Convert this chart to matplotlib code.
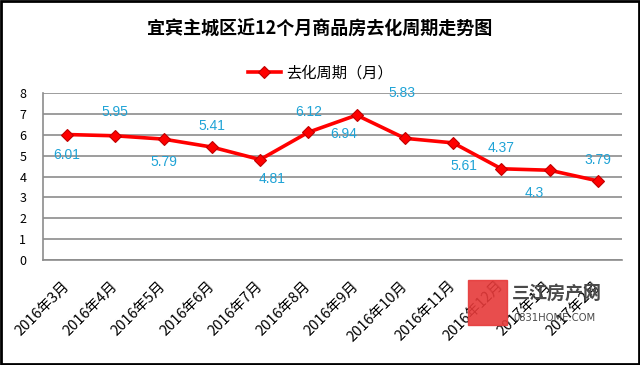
import matplotlib.pyplot as plt
from matplotlib.patches import Rectangle

plt.rcParams['font.family'] = ['Noto Sans CJK SC', 'DejaVu Sans']

# data
months = ['2016年3月', '2016年4月', '2016年5月', '2016年6月', '2016年7月', '2016年8月',
          '2016年9月', '2016年10月', '2016年11月', '2016年12月', '2017年1月', '2017年2月']
cycle = [6.01, 5.95, 5.79, 5.41, 4.81, 6.12, 6.94, 5.83, 5.61, 4.37, 4.3, 3.79]
series_name = '去化周期（月）'
title = '宜宾主城区近12个月商品房去化周期走势图'

# label offsets in pixels (dx, dy), placed like the original excel chart
label_off = [(0, -20), (0, 24), (0, -23), (0, 21), (12, -19), (0, 20),
             (-13, -19), (-3, 45), (11, -23), (0, 21), (-15, -23), (0, 21)]

fig = plt.figure(figsize=(6.4, 3.65), dpi=100)
ax = fig.add_axes([43/640, 105/365, 579/640, 167/365])

x = list(range(len(cycle)))
line, = ax.plot(x, cycle, color='#ff0000', lw=2.6, marker='D', markersize=6.5,
                markerfacecolor='#ff0000', markeredgecolor='#c00000', markeredgewidth=0.8,
                label=series_name, zorder=3)

for i, v in enumerate(cycle):
    ax.annotate(f'{v:g}', (i, v), xytext=label_off[i], textcoords='offset pixels',
                ha='center', va='center', color='#1fa3d6', fontsize=10,
                family=['Liberation Sans', 'DejaVu Sans'])

ax.set_xlim(-0.5, len(cycle) - 0.5)
ax.set_ylim(0, 8)
ax.set_yticks(range(0, 9))
ax.yaxis.grid(True, color='#8c8c8c', lw=1.2)
ax.set_axisbelow(True)
for s in ['top', 'right']:
    ax.spines[s].set_visible(False)
ax.spines['left'].set_color('#8c8c8c')
ax.spines['bottom'].set_color('#8c8c8c')
ax.spines['left'].set_linewidth(1.2)
ax.spines['bottom'].set_linewidth(1.2)

ax.set_xticks(x)
ax.set_xticklabels(months, rotation=45, ha='right', va='center', rotation_mode='anchor', fontsize=10.5)
ax.tick_params(axis='x', length=0, pad=17)
ax.tick_params(axis='y', length=0, pad=12, labelsize=9)

fig.text(0.5, 1 - 29/365, title, ha='center', va='center', fontsize=13, fontweight='bold')
fig.legend(handles=[line], loc='center', bbox_to_anchor=(0.5, 1 - 73/365), frameon=False,
           fontsize=11, handlelength=2.2, handletextpad=0.3)

# watermark (三江房产网)
fig.patches.append(Rectangle((468/640, 40/365), 39/640, 45/365, transform=fig.transFigure,
                             color='#e63a3a', alpha=0.9, zorder=5))
fig.text(512/640, 1 - 293/365, '三江房产网', fontsize=13, color='#4a4a4a', ha='left', va='center',
         fontweight='bold', zorder=6)
fig.text(513/640, 1 - 318/365, '0831HOME.COM', fontsize=8, color='#4a4a4a', ha='left', va='center', zorder=6,
         family='DejaVu Sans', fontstretch='condensed')

# outer frame
fig.patches.append(Rectangle((0.002, 0.003), 0.996, 0.994, transform=fig.transFigure,
                             fill=False, ec='black', lw=2))

fig.savefig('out.png', dpi=100)
